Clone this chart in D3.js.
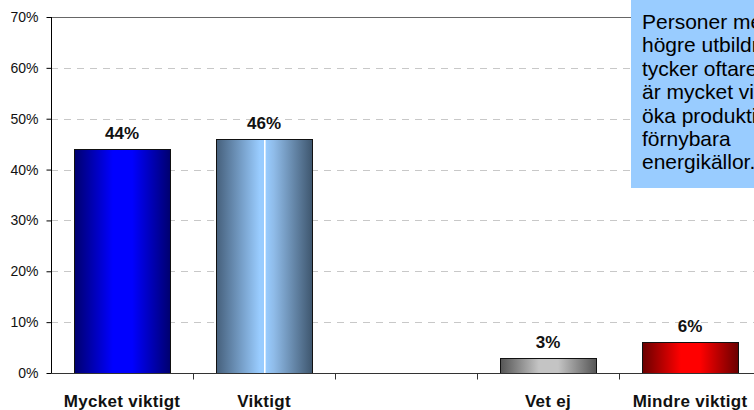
<!DOCTYPE html>
<html>
<head>
<meta charset="utf-8">
<script src="https://cdn.jsdelivr.net/npm/d3@7"></script>
<style>
    html, body { margin: 0; padding: 0; background: #fff; overflow: hidden; }
    svg { display: block; font-family: "Liberation Sans", Arial, sans-serif; }
</style>
</head>
<body>
<div id="chart"></div>
<script>
// chart data
const categories = ['Mycket viktigt', 'Viktigt', '', 'Vet ej', 'Mindre viktigt'];
const values = [44, 46, null, 3, 6];
const yTicks = [0, 10, 20, 30, 40, 50, 60, 70];
const noteLines = ['Personer med', 'högre utbildning', 'tycker oftare att det', 'är mycket viktigt att', 'öka produktionen av', 'förnybara', 'energikällor.'];

// gradient per bar: [edge, centre]
const barColors = [
    ['#00006e', '#0000ff'],
    ['#46607c', '#99ccff'],
    null,
    ['#555555', '#c4c4c4'],
    ['#6a0000', '#ff0000']
];

const width = 754, height = 410;
const margin = { top: 17, left: 51, bottom: 37 };
const step = 142; // plot runs past the right edge of the picture

const svg = d3.select('#chart').append('svg')
    .attr('width', width)
    .attr('height', height);

const defs = svg.append('defs');

// --- x / y scales ---
const xBand = d3.scaleBand()
    .domain(categories)
    .range([margin.left, margin.left + step * categories.length])
    .paddingInner(0.325)
    .paddingOuter(0.1625);

const xCell = d3.scaleBand()
    .domain(categories)
    .range([margin.left, margin.left + step * categories.length]);

const y = d3.scaleLinear()
    .domain([0, 70])
    .range([height - margin.bottom, margin.top]);

// --- gridlines ---
svg.append('g')
    .selectAll('line')
    .data(yTicks.filter(t => t > 0 && t < 70))
    .join('line')
    .attr('x1', margin.left)
    .attr('x2', width)
    .attr('y1', d => Math.round(y(d)) + 0.5)
    .attr('y2', d => Math.round(y(d)) + 0.5)
    .attr('stroke', '#c8c8c8')
    .attr('stroke-dasharray', '7,6');

// top border of plot area
svg.append('line')
    .attr('x1', margin.left).attr('x2', width)
    .attr('y1', Math.round(y(70)) + 0.5).attr('y2', Math.round(y(70)) + 0.5)
    .attr('stroke', '#666');

// --- bars ---
barColors.forEach((c, i) => {
    if (!c) return;
    const g = defs.append('linearGradient')
        .attr('id', 'bar-grad-' + i)
        .attr('x1', '0%').attr('x2', '100%')
        .attr('y1', '0%').attr('y2', '0%');
    let stops = [[0, c[0]], [0.4, c[1]], [0.6, c[1]], [1, c[0]]];
    if (i === 1) {
        // light blue bar has a thin white stripe in the middle
        stops = [[0, c[0]], [0.45, c[1]], [0.495, c[1]], [0.496, '#ffffff'], [0.51, '#ffffff'], [0.511, c[1]], [0.6, '#8fbbe8'], [1, '#3e566e']];
    }
    stops.forEach(s => g.append('stop').attr('offset', s[0]).attr('stop-color', s[1]));
});

const bars = categories.map((c, i) => ({ cat: c, value: values[i], idx: i })).filter(d => d.value != null);

svg.append('g')
    .selectAll('rect')
    .data(bars)
    .join('rect')
    .attr('x', d => Math.round(xBand(d.cat)) + 0.5)
    .attr('y', d => Math.round(y(d.value)) + 0.5)
    .attr('width', Math.round(xBand.bandwidth()))
    .attr('height', d => Math.round(y(0)) - Math.round(y(d.value)))
    .attr('fill', d => `url(#bar-grad-${d.idx})`)
    .attr('stroke', '#111')
    .attr('stroke-width', 1);

// value labels
svg.append('g')
    .selectAll('text')
    .data(bars)
    .join('text')
    .attr('x', d => xBand(d.cat) + xBand.bandwidth() / 2)
    .attr('y', d => y(d.value) - 10)
    .attr('text-anchor', 'middle')
    .attr('font-size', 17)
    .attr('font-weight', 'bold')
    .attr('fill', '#111')
    .text(d => d.value + '%');

// --- y axis ---
const yAxis = svg.append('g')
    .attr('transform', `translate(${margin.left + 0.5},0)`)
    .call(d3.axisLeft(y).tickValues(yTicks).tickSize(5).tickPadding(8).tickFormat(d => d + '%'));
yAxis.select('.domain').attr('stroke', '#000').attr('d', `M0,${y(70)}V${y(0)}`);
yAxis.selectAll('.tick line').attr('stroke', '#000');
yAxis.selectAll('.tick text')
    .attr('font-size', 14)
    .attr('font-family', '"Liberation Sans", Arial, sans-serif')
    .attr('fill', '#111');

// --- x axis ---
const baseY = Math.round(y(0)) + 0.5;
svg.append('line')
    .attr('x1', margin.left).attr('x2', width)
    .attr('y1', baseY).attr('y2', baseY)
    .attr('stroke', '#333');

svg.append('g')
    .selectAll('line')
    .data(categories.slice(1))
    .join('line')
    .attr('x1', d => Math.round(xCell(d)) + 0.5)
    .attr('x2', d => Math.round(xCell(d)) + 0.5)
    .attr('y1', baseY)
    .attr('y2', baseY + 6)
    .attr('stroke', '#333');

svg.append('g')
    .selectAll('text')
    .data(categories)
    .join('text')
    .attr('x', d => xCell(d) + xCell.bandwidth() / 2)
    .attr('y', 407)
    .attr('text-anchor', 'middle')
    .attr('font-size', 17)
    .attr('font-weight', 'bold')
    .attr('letter-spacing', 0.3)
    .attr('fill', '#111')
    .text(d => d);

// --- note box (cut off at right edge, as in the original) ---
svg.append('rect')
    .attr('x', 631).attr('y', -2)
    .attr('width', 200).attr('height', 190)
    .attr('fill', '#99ccff');

svg.append('text')
    .attr('font-size', 21)
    .attr('fill', '#000')
    .selectAll('tspan')
    .data(noteLines)
    .join('tspan')
    .attr('x', 642)
    .attr('y', (d, i) => 29 + i * 23.4)
    .text(d => d);
</script>
</body>
</html>
